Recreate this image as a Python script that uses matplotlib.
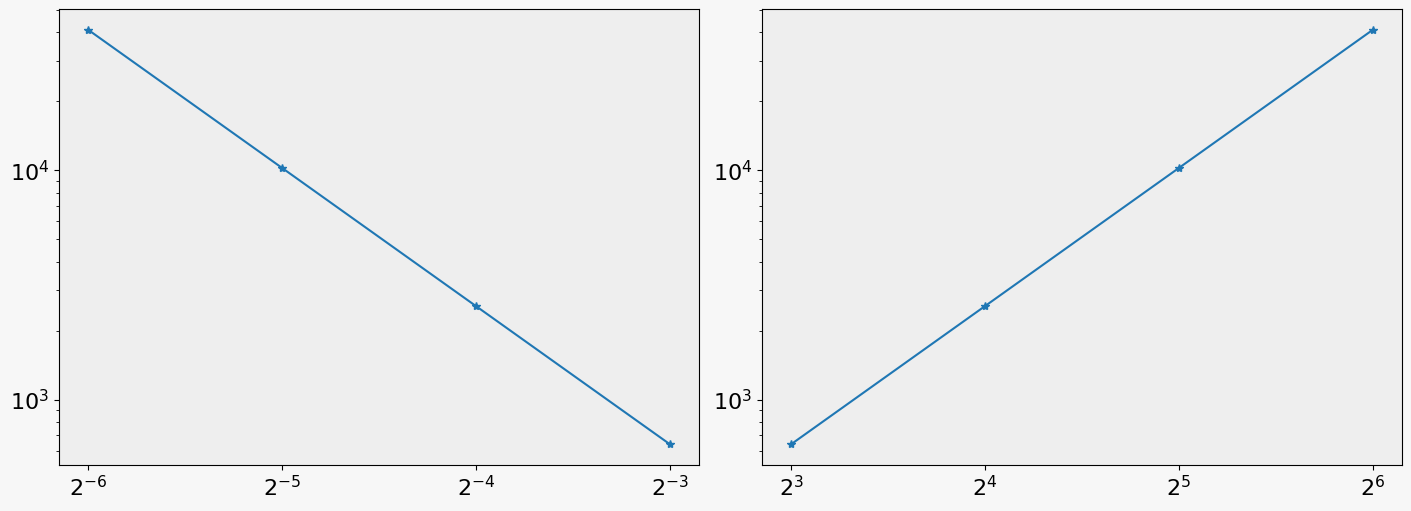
import matplotlib
matplotlib.use("Agg")
import matplotlib.pyplot as plt
from matplotlib.ticker import NullLocator

# grid spacing and number of cells
h = [2**-6, 2**-5, 2**-4, 2**-3]
n = [2**3, 2**4, 2**5, 2**6]
cost_h = [40960, 10240, 2560, 640]
cost_n = [640, 2560, 10240, 40960]

W, H = 1411, 511
fig = plt.figure(figsize=(W / 100, H / 100), dpi=100, facecolor="#f7f7f7")
ax1 = fig.add_axes([59 / W, 1 - 465 / H, 640 / W, (465 - 9) / H])
ax2 = fig.add_axes([762 / W, 1 - 465 / H, 640 / W, (465 - 9) / H])

for ax, x, y in [(ax1, h, cost_h), (ax2, n, cost_n)]:
    ax.set_facecolor("#eeeeee")
    ax.plot(x, y, marker="*")
    ax.set_xscale("log", base=2)
    ax.set_yscale("log")
    ax.set_xticks(x)
    ax.xaxis.set_minor_locator(NullLocator())
    ax.tick_params(labelsize=16)

fig.savefig("out.png", facecolor=fig.get_facecolor())
